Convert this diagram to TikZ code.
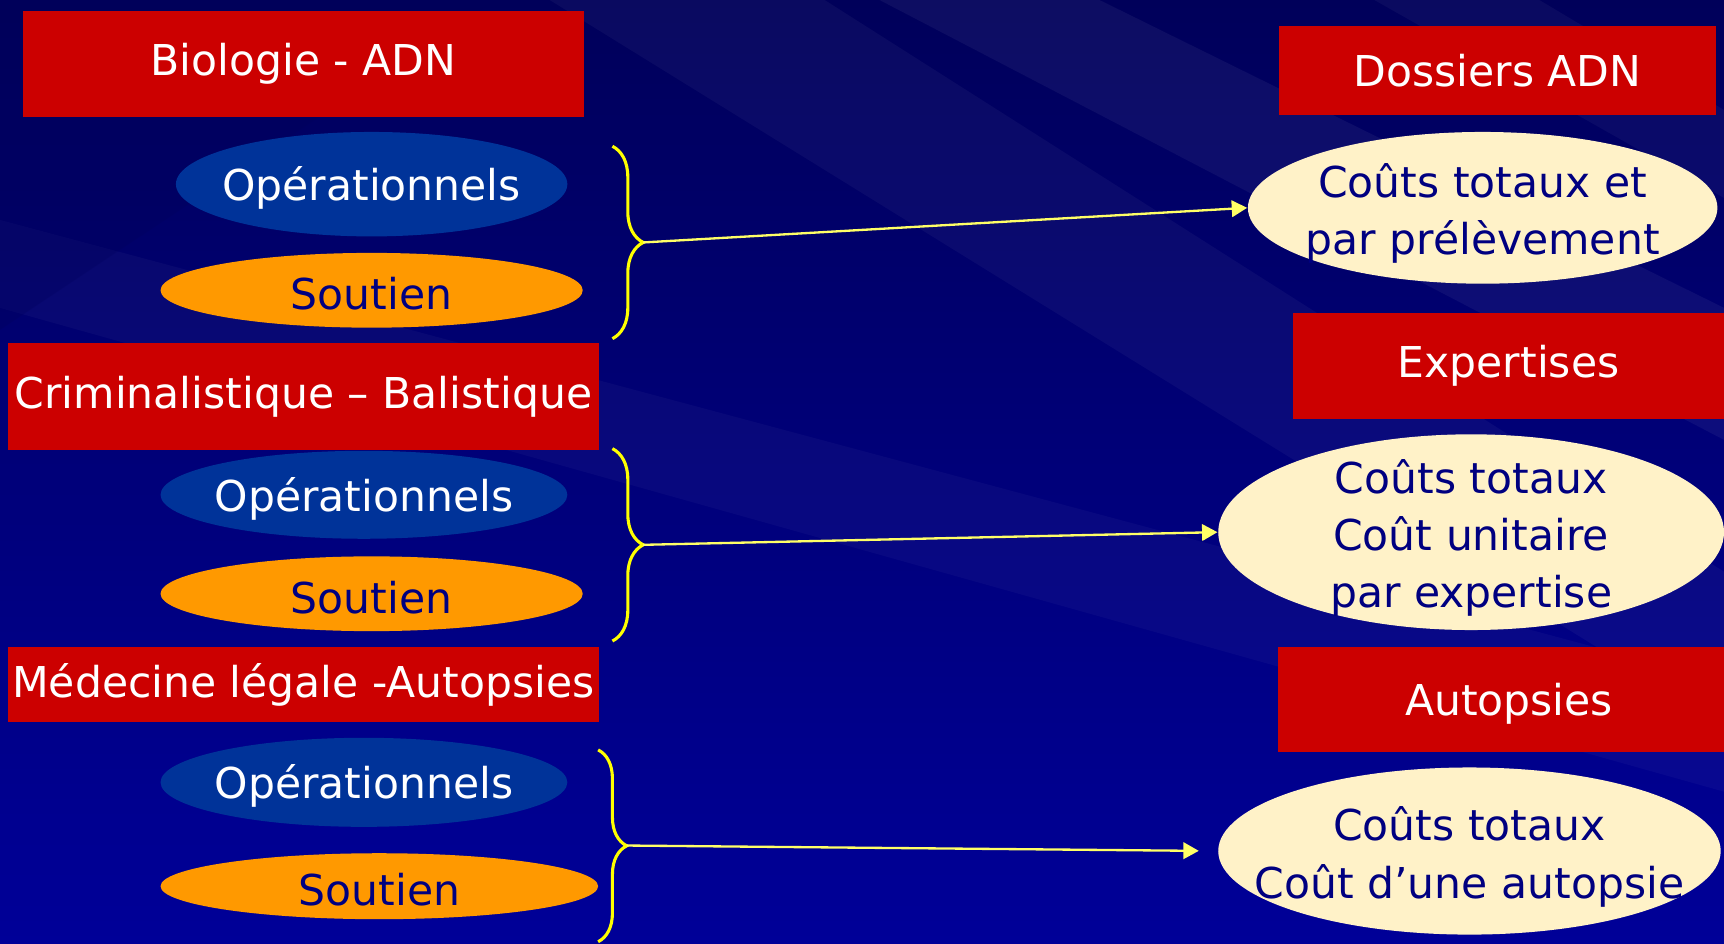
\documentclass[tikz,border=0pt]{standalone}
\usepackage{fontspec}
\setmainfont{DejaVu Sans}
\usetikzlibrary{shapes.geometric, arrows.meta, decorations.pathreplacing}

\definecolor{bgdark}{HTML}{00005A}
\definecolor{bgblue}{HTML}{000098}
\definecolor{boxred}{HTML}{CC0000}
\definecolor{opblue}{HTML}{003399}
\definecolor{souorange}{HTML}{FF9900}
\definecolor{cream}{HTML}{FFF2C8}
\definecolor{navytext}{HTML}{000080}
\definecolor{braceyellow}{HTML}{FFFF00}
\definecolor{lineyellow}{HTML}{FFFF66}

\begin{document}
\begin{tikzpicture}[x = 1mm, y = -1mm, align = center,
        font = \fontsize{11}{14.8}\selectfont,
        unitbox/.style = {fill = boxred, text = white, inner sep = 0pt},
        opnode/.style  = {ellipse, fill = opblue, inner sep = 0pt,
            label = {[text = white, yshift = -1pt]center:#1}},
        sounode/.style = {ellipse, fill = souorange, inner sep = 0pt,
            label = {[text = navytext, yshift = -1pt]center:#1}},
        costnode/.style = {ellipse, fill = cream, inner sep = 0pt,
            label = {[text = navytext, align = center, yshift = -1.5pt]center:{#1}}},
        bracket/.style = {draw = braceyellow, line width = 0.8pt,
            decorate, decoration = {brace, amplitude = #1}},
        conn/.style = {draw = lineyellow, line width = 0.6pt,
            -{Triangle[length = 1.4mm, width = 1.5mm]}}]

        % background
        \useasboundingbox (0, 0) rectangle (156.8, 85.77);
        \shade[shading = axis, shading angle = 150, top color = bgdark, bottom color = bgblue]
            (0, 0) rectangle (156.8, 85.77);
        \fill[white, opacity = 0.04] (50, 0) -- (75, 0) -- (156.8, 52) -- (156.8, 66) -- cycle;
        \fill[white, opacity = 0.05] (80, 0) -- (100, 0) -- (156.8, 28) -- (156.8, 40) -- cycle;
        \fill[white, opacity = 0.04] (125, 0) -- (140, 0) -- (156.8, 10) -- (156.8, 18) -- cycle;
        \fill[white, opacity = 0.03] (0, 20) -- (0, 28) -- (156.8, 72) -- (156.8, 62) -- cycle;
        \fill[bgdark, opacity = 0.25] (0, 0) -- (45, 0) -- (0, 30) -- cycle;

        % left column
        \node[unitbox, minimum width = 51mm, minimum height = 9.6mm] (bio) at (27.6, 5.8) {Biologie - ADN};
        \node[opnode = Opérationnels, minimum width = 35.6mm, minimum height = 9.5mm] (op1) at (33.8, 16.75) {};
        \node[sounode = Soutien, minimum width = 38.4mm, minimum height = 6.8mm] (sou1) at (33.8, 26.4) {};

        \node[unitbox, minimum width = 53.8mm, minimum height = 9.7mm] (crim) at (27.6, 36.05) {Criminalistique – Balistique};
        \node[opnode = Opérationnels, minimum width = 37mm, minimum height = 8mm] (op2) at (33.1, 45) {};
        \node[sounode = Soutien, minimum width = 38.4mm, minimum height = 6.8mm] (sou2) at (33.8, 54) {};

        \node[unitbox, minimum width = 53.8mm, minimum height = 6.9mm] (med) at (27.6, 62.25) {Médecine légale -Autopsies};
        \node[opnode = Opérationnels, minimum width = 37mm, minimum height = 8.1mm] (op3) at (33.1, 71.15) {};
        \node[sounode = Soutien, minimum width = 39.8mm, minimum height = 6mm] (sou3) at (34.5, 80.6) {};

        % right column
        \node[unitbox, minimum width = 39.8mm, minimum height = 8.1mm] (dos) at (136.2, 6.45) {Dossiers ADN};
        \node[costnode = {Coûts totaux et \\ par prélèvement},
            minimum width = 42.7mm, minimum height = 13.8mm] (cout1) at (134.85, 18.9) {};

        \node[unitbox, minimum width = 39.2mm, minimum height = 9.6mm] (exp) at (137.2, 33.3) {Expertises};
        \node[costnode = {Coûts totaux \\ Coût unitaire \\ par expertise},
            minimum width = 46mm, minimum height = 17.8mm] (cout2) at (133.8, 48.4) {};

        \node[unitbox, minimum width = 40.6mm, minimum height = 9.6mm, text depth = 0pt] (aut) at (136.5, 63.6)
            {\hspace*{1.5mm}Autopsies};
        \node[costnode = {Coûts totaux \\ Coût d’une autopsie},
            minimum width = 45.7mm, minimum height = 15.2mm] (cout3) at (133.65, 77.4) {};

        % braces
        \draw[bracket = 2.8mm] (55.7, 13.3) -- (55.7, 30.8);
        \draw[bracket = 2.8mm] (55.7, 40.8) -- (55.7, 58.3);
        \draw[bracket = 2.6mm] (54.4, 68.2) -- (54.4, 85.65);
        \coordinate (tip1) at (58.5, 22.05);
        \coordinate (tip2) at (58.5, 49.55);
        \coordinate (tip3) at (57.0, 76.9);

        \draw[conn] (tip1) -- (cout1.west);
        \draw[conn] (tip2) -- (cout2.west);
        \draw[conn, shorten > = 1.7mm] (tip3) -- (cout3.west);
    \end{tikzpicture}
\end{document}
